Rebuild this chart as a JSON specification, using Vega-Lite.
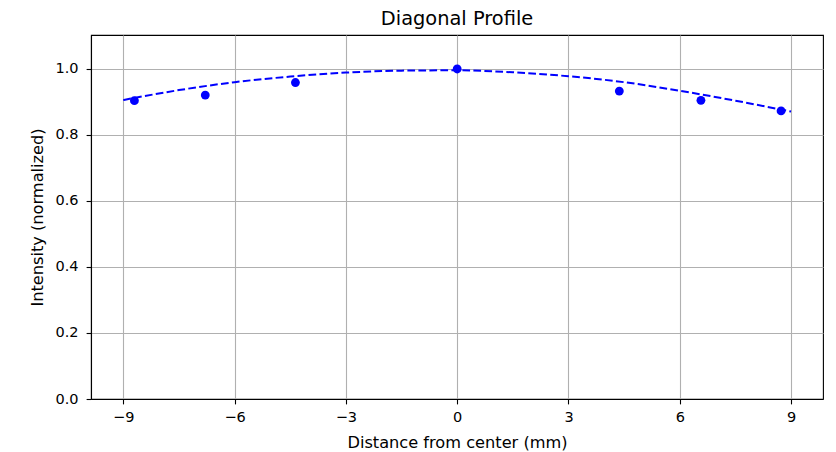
{
  "$schema": "https://vega.github.io/schema/vega-lite/v6.json",
  "width": 732,
  "height": 364,
  "autosize": {"type": "none"},
  "padding": {"left": 91, "top": 35, "right": 13, "bottom": 53},
  "background": "white",
  "config": {
    "font": "DejaVu Sans",
    "view": {"stroke": "black", "strokeWidth": 1.1},
    "axis": {
      "labelFont": "DejaVu Sans",
      "titleFont": "DejaVu Sans",
      "labelFontSize": 14.5,
      "titleFontSize": 16.2,
      "titleFontWeight": "normal",
      "labelColor": "black",
      "titleColor": "black",
      "tickColor": "black",
      "tickSize": 4.9,
      "tickWidth": 1.1,
      "domainColor": "black",
      "domainWidth": 1.1,
      "gridColor": "#b0b0b0",
      "gridWidth": 1.1,
      "gridOpacity": 1,
      "labelFlush": false,
      "labelOverlap": false
    },
    "axisX": {"labelPadding": 6.5, "titlePadding": 11},
    "axisY": {"labelPadding": 8, "titlePadding": 10},
    "title": {"font": "DejaVu Sans", "fontSize": 19.4, "fontWeight": "normal", "color": "black", "offset": 6, "anchor": "middle"}
  },
  "title": "Diagonal Profile",
  "datasets": {
    "points": [
      {"x": -8.70, "y": 0.904},
      {"x": -6.79, "y": 0.921},
      {"x": -4.36, "y": 0.959},
      {"x": 0.0, "y": 1.0},
      {"x": 4.37, "y": 0.933},
      {"x": 6.57, "y": 0.905},
      {"x": 8.73, "y": 0.873}
    ],
    "fit": [
      {"x": -9.0, "y": 0.906},
      {"x": -7.5, "y": 0.936},
      {"x": -6.0, "y": 0.960},
      {"x": -4.5, "y": 0.977},
      {"x": -3.0, "y": 0.989},
      {"x": -1.5, "y": 0.995},
      {"x": 0.0, "y": 0.996},
      {"x": 1.5, "y": 0.990},
      {"x": 3.0, "y": 0.978},
      {"x": 4.5, "y": 0.960},
      {"x": 6.0, "y": 0.934},
      {"x": 7.5, "y": 0.904},
      {"x": 9.0, "y": 0.871}
    ]
  },
  "encoding": {
    "x": {
      "field": "x", "type": "quantitative",
      "scale": {"domain": [-9.87, 9.86], "nice": false, "zero": false},
      "axis": {"values": [-9, -6, -3, 0, 3, 6, 9], "format": "d", "title": "Distance from center (mm)"}
    },
    "y": {
      "field": "y", "type": "quantitative",
      "scale": {"domain": [0, 1.103], "nice": false},
      "axis": {"values": [0, 0.2, 0.4, 0.6, 0.8, 1.0], "format": ".1f", "title": "Intensity (normalized)"}
    }
  },
  "layer": [
    {
      "data": {"name": "fit"},
      "mark": {"type": "line", "color": "#0000ff", "strokeWidth": 2, "strokeDash": [7.7, 3.3], "interpolate": "monotone"}
    },
    {
      "data": {"name": "points"},
      "mark": {"type": "circle", "color": "#0000ff", "opacity": 1, "size": 78}
    }
  ]
}
